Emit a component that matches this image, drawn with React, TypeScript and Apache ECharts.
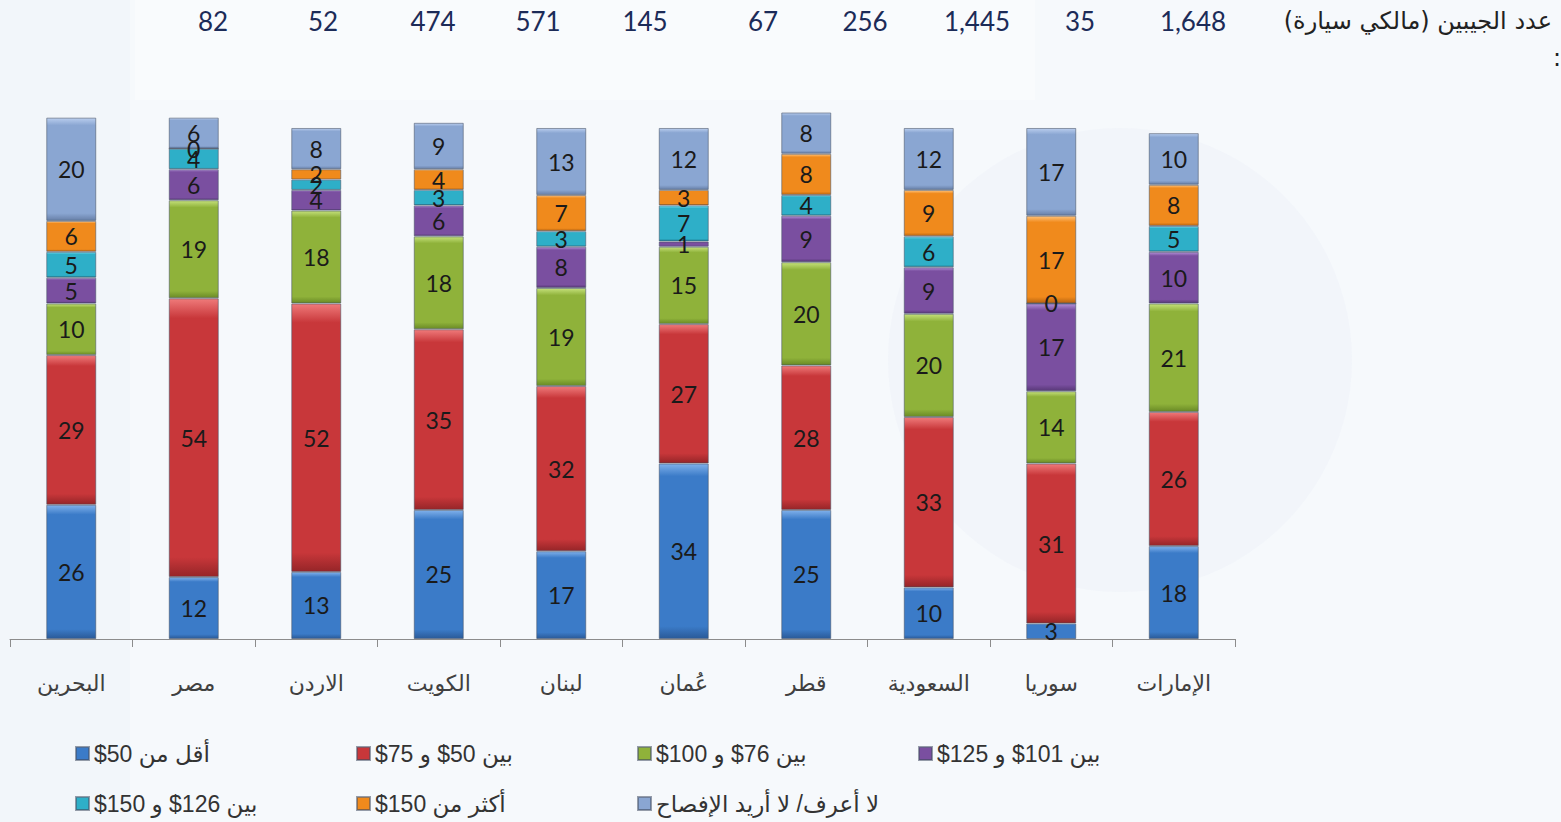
import React, { useEffect, useRef } from "react";
import * as echarts from "echarts";

const categories = ["البحرين", "مصر", "الاردن", "الكويت", "لبنان", "عُمان", "قطر", "السعودية", "سوريا", "الإمارات"];
const respondents = ["82", "52", "474", "571", "145", "67", "256", "1,445", "35", "1,648"];
const respondentsTitle = "عدد الجيبين (مالكي سيارة)";
const seriesNames = [
  "أقل من 50$",
  "بين 50$ و 75$",
  "بين 76$ و 100$",
  "بين 101$ و 125$",
  "بين 126$ و 150$",
  "أكثر من 150$",
  "لا أعرف/ لا أريد الإفصاح",
];
const under50 = [26, 12, 13, 25, 17, 34, 25, 10, 3, 18];
const from50to75 = [29, 54, 52, 35, 32, 27, 28, 33, 31, 26];
const from76to100 = [10, 19, 18, 18, 19, 15, 20, 20, 14, 21];
const from101to125 = [5, 6, 4, 6, 8, 1, 9, 9, 17, 10];
const from126to150 = [5, 4, 2, 3, 3, 7, 4, 6, 0, 5];
const over150 = [6, 0, 2, 4, 7, 3, 8, 9, 17, 8];
const dontKnow = [20, 6, 8, 9, 13, 12, 8, 12, 17, 10];

const seriesData = [under50, from50to75, from76to100, from101to125, from126to150, over150, dontKnow];
const palette = [
  { light: "#7fb0ea", base: "#3b7bc8", dark: "#2a5a98" },
  { light: "#ef7a7a", base: "#c8373a", dark: "#962528" },
  { light: "#c4e07a", base: "#8fb23a", dark: "#6a8a26" },
  { light: "#b08fd6", base: "#7a4fa0", dark: "#583878" },
  { light: "#7fe0f2", base: "#2eafc8", dark: "#1e8298" },
  { light: "#ffc27a", base: "#f08a1c", dark: "#b86410" },
  { light: "#b9cdee", base: "#8aa6d2", dark: "#6880a8" },
];
// x-centres of the respondent counts in the header row (layout only)
const headerX = [213, 323, 433, 538, 645, 763, 865, 977, 1080, 1193];

const rtl = (s: string) => "\u202B" + s + "\u202C";

export default function App() {
  const ref = useRef<HTMLDivElement>(null);
  useEffect(() => {
    const chart = echarts.init(ref.current!, null, { renderer: "svg" });
    const series = seriesNames.map((name, i) => ({
      name,
      type: "bar",
      stack: "total",
      data: seriesData[i],
      barWidth: 50,
      itemStyle: {
        color: new echarts.graphic.LinearGradient(0, 0, 0, 1, [
          { offset: 0, color: palette[i].light },
          { offset: 0.07, color: palette[i].base },
          { offset: 0.93, color: palette[i].base },
          { offset: 1, color: palette[i].dark },
        ]),
        borderColor: "rgba(70,80,100,0.55)",
        borderWidth: 1,
      },
      label: {
        show: true,
        position: "inside",
        fontFamily: "Lato, 'Open Sans', sans-serif",
        fontSize: 23,
        color: "#1a1a1a",
      },
    }));

    const graphic: any[] = [
      {
        type: "rect",
        z: -20,
        silent: true,
        shape: { x: 0, y: 0, width: 130, height: 822 },
        style: { fill: "rgba(228,233,242,0.18)" },
      },
      {
        type: "rect",
        z: -19,
        silent: true,
        shape: { x: 135, y: 0, width: 900, height: 100 },
        style: { fill: "rgba(255,255,255,0.35)" },
      },
      {
        type: "circle",
        z: -10,
        silent: true,
        shape: { cx: 1120, cy: 360, r: 232 },
        style: { fill: "rgba(226,232,244,0.22)" },
      },
      ...respondents.map((t, i) => ({
        type: "text",
        x: headerX[i],
        y: 21,
        style: {
          text: t,
          fill: "#1c2b58",
          font: "26px Lato, 'Open Sans', sans-serif",
          align: "center",
          verticalAlign: "middle",
          textAlign: "center",
          textVerticalAlign: "middle",
        },
      })),
      {
        type: "text",
        x: 1552,
        y: 21,
        style: {
          text: rtl(respondentsTitle),
          fill: "#222",
          font: "24px 'DejaVu Sans', sans-serif",
          align: "right",
          verticalAlign: "middle",
          textAlign: "right",
          textVerticalAlign: "middle",
        },
      },
      {
        type: "text",
        x: 1557,
        y: 58,
        style: {
          text: ":",
          fill: "#222",
          font: "24px 'DejaVu Sans', sans-serif",
          align: "center",
          verticalAlign: "middle",
          textAlign: "center",
          textVerticalAlign: "middle",
        },
      },
    ];

    chart.setOption({
      animation: false,
      backgroundColor: "#f6f9fc",
      grid: { left: 10, right: 326, top: 97, bottom: 183 },
      xAxis: {
        type: "category",
        data: categories,
        axisLine: { lineStyle: { color: "#8c8c8c", width: 1 } },
        axisTick: { show: true, length: 8, lineStyle: { color: "#8c8c8c" } },
        axisLabel: {
          margin: 33,
          formatter: (v: string) => rtl(v),
          fontFamily: "'Liberation Sans', 'DejaVu Sans', sans-serif",
          fontSize: 22,
          color: "#404040",
        },
      },
      yAxis: { type: "value", min: 0, max: 105, show: false },
      legend: {
        left: 70,
        top: 727,
        width: 1130,
        itemWidth: 13,
        itemHeight: 13,
        itemGap: 7,
        icon: "rect",
        data: seriesNames,
        formatter: (n: string) => rtl(n),
        textStyle: {
          fontFamily: "'Liberation Sans', 'DejaVu Sans', sans-serif",
          fontSize: 23,
          color: "#333",
          width: 255,
          lineHeight: 43,
        },
      },
      graphic,
      series,
    });
    return () => chart.dispose();
  }, []);
  return (
    <div
      ref={ref}
      style={{ position: "fixed", left: 0, top: 0, width: 1561, height: 822 }}
    />
  );
}
